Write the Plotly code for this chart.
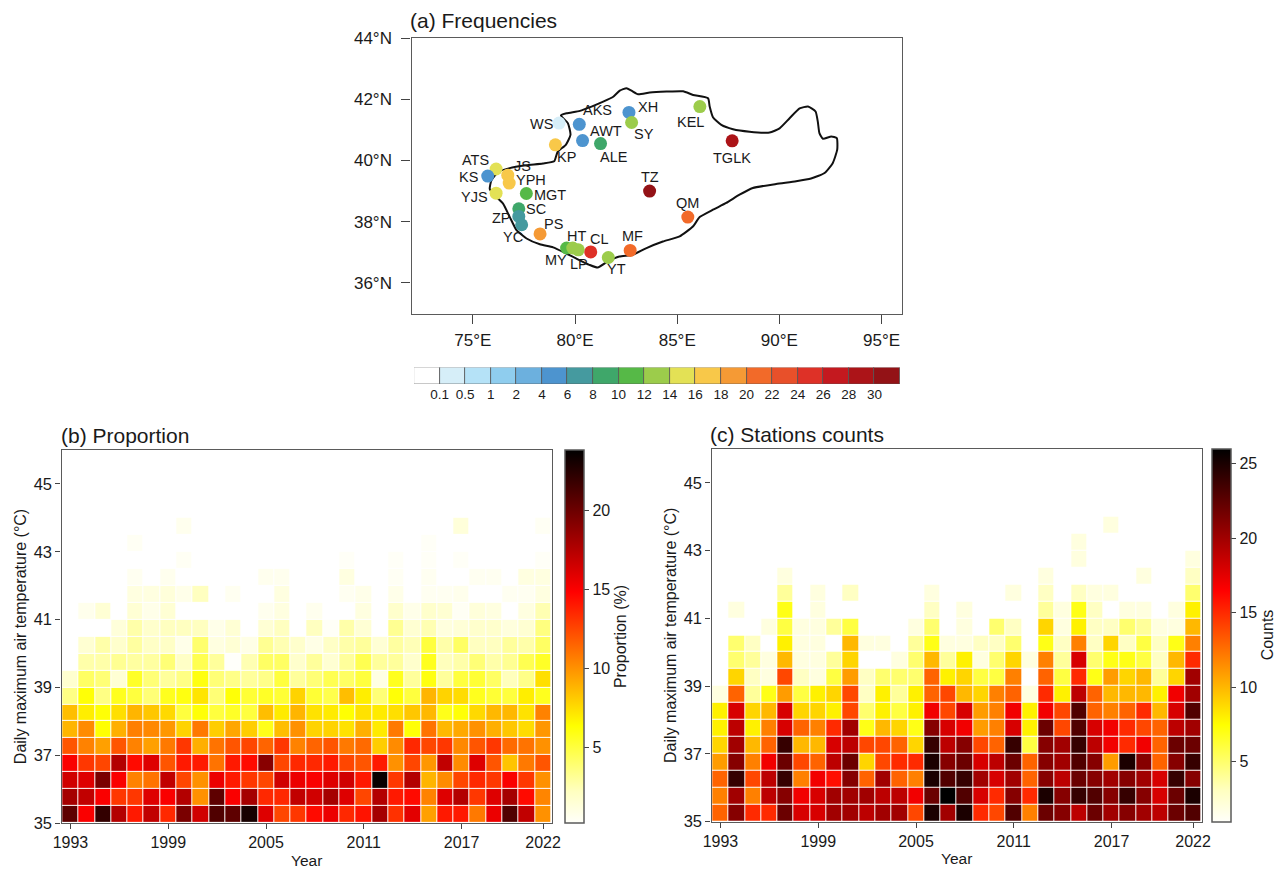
import numpy as np
import plotly.graph_objects as go

W, H = 1276, 869
FONT = "Liberation Sans"
INK = "#1a1a1a"
FRAME = "#5a5a5a"

# ---------- data ----------
years = list(range(1993, 2023))
year_ticks = [1993, 1999, 2005, 2011, 2017, 2022]
temp_ticks = [35, 37, 39, 41, 43, 45]
temp_rows = [35.25 + 0.5 * i for i in range(18)]

prop_35_0 = [20.5,15,22,17.5,14,17,13.5,19.5,16.5,21,20.5,23,16,12.5,13,14.5,15.5,13.5,14.2,18,13.2,15.8,9.5,14,14,10.8,15.5,21,17,10]
prop_35_5 = [18,17,15,13,13,16,15,17.5,10,20.5,15,18,13.5,13.5,17,16.5,18,16,12.5,17.5,14,14.5,10.5,16,17.5,13,16,18,14.5,10.4]
prop_36_0 = [16.5,16,19.5,15,10.5,11,17,12.5,10,15.5,14,13,12.5,16.5,15.5,15,16,16.5,14,23.5,13,17.5,8.8,10.2,12.5,13.5,13,15,13,10]
prop_36_5 = [15,13,12.5,17.5,14.5,16,12,14,14,11,14,14.5,19,12.5,13.5,13.5,14,12.5,12,14,10,12.5,9.8,17,10.2,16,12,8.3,10.8,12]
prop_37_0 = [12,10.5,9.5,12,10.5,9.5,10.8,13,9,11,12,12.5,11.5,13,10.5,11.5,12,10.8,11.3,8,10.2,13.5,12.5,13,10.3,12,13,11.3,11,10]
prop_37_5 = [8.8,10.2,6.3,9,10.6,10.3,9.8,7.8,10.8,8,9.3,8,5.8,8.5,10,7.8,7.8,7.3,9,7,10.8,6.2,11,8.7,9.2,10,9,8.2,7.5,9.8]
prop_38_0 = [8.5,6.9,6.2,7.4,8.8,8.2,7.6,5,6.2,5,5.5,5,8.5,7,8.8,7.3,7,6.3,7.3,7,7.4,8.2,8.7,5.8,6.2,7.6,8.7,8.7,7.3,10.5]
prop_38_5 = [3.5,6.2,3.5,5.7,5,3.8,5.7,6,7.2,3.8,6.2,5.2,5.5,5.2,7.8,5.2,4.7,8.5,6.9,3.8,6.2,5,8.8,7.8,7.5,5.7,5.2,5,6.9,5.7]
prop_39_0 = [1.7,4.2,3.8,1.5,5.5,3.8,3,3.5,6,3.8,3.4,3,3.4,5,3,3.8,4.6,4.2,5,1,5.7,3,6,3,5,5.2,4.2,2.3,3.4,7.4]
prop_39_5 = [0,2.7,2.7,3.2,2.9,2.9,3.8,2,4.6,3,0.2,2.5,4.2,4.2,1.8,3,1.6,3,4.6,3,3,1.8,5.7,2.3,2.7,3.8,2.7,3.2,4.6,5.5]
prop_40_0 = [0,1.6,2.7,1.8,2.9,2,2,0.8,4,1.1,1.5,0.9,3.2,2.5,1.8,0.9,2,2.7,3,1.5,2.9,2.4,5,2.7,4.2,2.2,2.2,3,2.7,4.2]
prop_40_5 = [0,0,0,1.3,2.7,1.8,2.2,2.2,2.2,0.8,1.5,0,1.5,2.2,0,2.2,0.3,2.7,1.5,0,3.2,1.6,2.5,1.2,1.4,1.8,1.8,1.2,1.6,3.6]
prop_41_0 = [0,0.7,1.5,0,1.5,0.8,1.5,0,0,0,0,0,0.6,1.1,0,0.6,0,0,1.1,0,1.8,0.8,1.8,1.6,0.4,1.3,1.1,0,1.1,2.5]
prop_41_5 = [0,0,0,0,1.1,1.1,1.3,0.8,2.2,0,0.5,0,0,1.1,0,0,0,0.5,0.8,0,0.8,0,0.5,0.5,0.7,0,0,0.5,0.5,1.1]
prop_42_0 = [0,0,0,0,0.5,0,0.6,0,0,0,0,0,0.6,0.6,0,0,0,1.1,0,0,0.4,0,0.5,0,0,0.5,0.5,0,1.1,1.1]
prop_42_5 = [0,0,0,0,0,0,0,0.4,0,0,0,0,0,0,0,0,0,0.3,0,0,0.3,0,0.3,0,0.3,0,0,0,0,0.3]
prop_43_0 = [0,0,0,0,0.4,0,0,0,0,0,0,0,0,0,0,0,0,0,0,0,0,0,0.3,0,0,0,0,0,0,0]
prop_43_5 = [0,0,0,0,0,0,0,0.6,0,0,0,0,0,0,0,0,0,0,0,0,0,0,0,0,1.3,0,0,0,0,0.4]

count_35_0 = [13,21,15,15,22,18,18,20,20,19,20,20,14,25,20,25,15,14,23,12,22,21,19,22,20,21,20,19,22,23]
count_35_5 = [12,20,12,19,21,17,18,20,20,20,19,19,17,22,26,23,18,15,21,15,25,21,24,23,21,24,21,18,22,25]
count_36_0 = [13,24,14,19,24,12,17,16,21,13,20,13,12,25,23,24,20,18,20,13,21,19,22,21,20,21,20,18,24,21]
count_36_5 = [11,21,12,17,22,14,13,19,22,9,14,15,15,25,21,22,18,19,22,13,21,20,23,21,11,25,21,13,21,24]
count_37_0 = [9,20,10,13,24,10,10,18,19,14,14,13,9,24,19,21,14,13,24,6,21,20,24,19,17,15,17,13,22,22]
count_37_5 = [8,19,8,12,18,13,12,15,20,7,10,9,7,21,18,17,11,12,18,8,22,14,23,18,17,15,14,13,19,20]
count_38_0 = [8,18,9,10,18,9,9,8,14,5,8,6,8,17,14,18,11,12,17,8,17,14,23,13,12,13,15,10,18,23]
count_38_5 = [2,13,4,7,11,6,8,9,14,3,8,4,8,13,14,10,9,12,13,2,15,8,19,13,10,10,10,8,17,20]
count_39_0 = [0,9,3,2,14,3,2,6,11,3,5,5,5,13,8,9,6,6,12,0,13,6,15,7,11,9,10,4,9,20]
count_39_5 = [0,5,4,2,10,2,2,4,9,0,0,2,5,10,4,8,2,5,9,2,12,4,18,5,7,7,6,3,10,15]
count_40_0 = [0,5,3,0,8,2,2,0,10,2,2,0,4,7,2,2,3,3,5,0,7,3,12,3,9,3,6,3,7,12]
count_40_5 = [0,0,0,2,6,2,2,4,6,0,0,0,2,5,0,2,0,5,3,0,9,2,8,3,3,5,4,2,2,10]
count_41_0 = [0,2,0,0,7,0,2,0,0,0,0,0,0,3,0,2,0,0,0,0,4,2,7,3,0,2,2,0,2,8]
count_41_5 = [0,0,0,0,4,0,2,0,3,0,0,0,0,2,0,0,0,0,2,0,3,0,3,2,2,0,0,0,0,5]
count_42_0 = [0,0,0,0,2,0,0,0,0,0,0,0,0,0,0,0,0,0,0,0,2,0,0,0,0,0,2,0,0,3]
count_42_5 = [0,0,0,0,0,0,0,0,0,0,0,0,0,0,0,0,0,0,0,0,0,0,2,0,0,0,0,0,0,2]
count_43_0 = [0,0,0,0,0,0,0,0,0,0,0,0,0,0,0,0,0,0,0,0,0,0,2,0,0,0,0,0,0,0]
count_43_5 = [0,0,0,0,0,0,0,0,0,0,0,0,0,0,0,0,0,0,0,0,0,0,0,0,2,0,0,0,0,0]

stations = ["WS","AKS","XH","SY","KEL","AWT","ALE","KP","TGLK","ATS","JS","YPH","KS","YJS","MGT","TZ","QM","SC","ZP","YC","PS","MY","HT","LP","CL","MF","YT"]
station_lon = [79.22,80.21,82.64,82.77,86.11,80.37,81.25,79.04,87.69,76.14,76.71,76.78,75.73,76.14,77.62,83.65,85.52,77.25,77.25,77.39,78.29,79.59,79.89,80.16,80.77,82.70,81.63]
station_lat = [41.22,41.18,41.57,41.24,41.76,40.65,40.55,40.51,40.64,39.72,39.52,39.26,39.49,38.93,38.92,39.00,38.15,38.42,38.17,37.90,37.60,37.14,37.14,37.08,37.01,37.06,36.83]
station_freq = [0.3,5,5,13,13,5,9,17,29,15,17,17,5,15,11,31,21,9,7,7,19,11,13,13,25,21,13]

border_lon = [79.31,79.59,80.24,80.81,81.38,81.87,82.19,82.52,82.76,83.09,83.66,84.48,85.29,85.78,86.51,86.59,86.75,87.16,87.73,88.54,89.52,90.01,90.50,90.99,91.40,91.77,91.88,91.96,92.13,92.54,92.81,92.83,92.61,92.21,91.55,90.82,89.84,88.70,88.05,87.40,86.75,86.10,85.77,85.12,84.30,83.47,82.82,82.17,81.60,81.11,80.70,80.05,79.57,78.93,78.28,77.63,77.14,76.81,76.48,76.07,75.83,75.91,76.23,76.80,77.61,78.43,78.98,79.15,79.56,79.78,79.65,79.31]
border_lat = [41.47,41.54,41.62,41.76,41.92,42.08,42.28,42.36,42.28,42.16,42.22,42.25,42.26,42.14,42.03,41.76,41.41,41.16,41.02,40.94,40.91,41.05,41.38,41.70,41.76,41.60,41.27,40.89,40.71,40.78,40.73,40.35,39.91,39.59,39.41,39.32,39.23,39.10,38.88,38.61,38.39,38.15,37.84,37.52,37.35,37.13,36.92,36.86,36.70,36.50,36.59,36.80,36.96,37.16,37.26,37.45,37.72,38.15,38.59,38.86,39.07,39.35,39.62,39.75,39.84,39.90,39.97,40.28,40.52,40.84,41.22,41.47]

level_labels = ["0.1","0.5","1","2","4","6","8","10","12","14","16","18","20","22","24","26","28","30"]
level_edges = [0.1,0.5,1,2,4,6,8,10,12,14,16,18,20,22,24,26,28,30]
level_colors = ["#ffffff","#d6eef8","#b5e2f7","#8fcdee","#6cb0de","#4d94cf","#459a9f","#3fa76a","#56b947","#9ccc4b","#e3e155","#f8c849","#f59a35","#f26a29","#e8502a","#de3127","#c4191f","#ac1418","#931216"]

# ---------- layout helpers ----------
label_offset = {"WS":(-18,1),"AKS":(18,-14),"XH":(19,-5),"SY":(12,12),"KEL":(-9,15),"AWT":(23,-10),"ALE":(13,13),"KP":(11,12),"TGLK":(0,17),"ATS":(-21,-9),"JS":(15,-9),"YPH":(22,-3),"KS":(-19,1),"YJS":(-22,4),"MGT":(24,1),"TZ":(0,-14),"QM":(0,-14),"SC":(17,0),"ZP":(-17,2),"YC":(-9,12),"PS":(13,-10),"HT":(4,-12),"CL":(9,-13),"MF":(2,-14),"MY":(-11,12),"LP":(1,14),"YT":(8,12)}

def dx(a, b):
    return [a / W, b / W]

def dy(top, bottom):
    return [1 - bottom / H, 1 - top / H]

heat_scale = [[0, "#fffffa"], [0.085, "#ffffc0"], [0.26, "#ffff00"], [0.62, "#ff0000"], [1, "#000000"]]

def matrix(rows):
    m = np.array(rows, dtype=float)
    m[m == 0] = np.nan
    return m

prop = matrix([prop_35_0,prop_35_5,prop_36_0,prop_36_5,prop_37_0,prop_37_5,prop_38_0,prop_38_5,prop_39_0,prop_39_5,prop_40_0,prop_40_5,prop_41_0,prop_41_5,prop_42_0,prop_42_5,prop_43_0,prop_43_5])
count = matrix([count_35_0,count_35_5,count_36_0,count_36_5,count_37_0,count_37_5,count_38_0,count_38_5,count_39_0,count_39_5,count_40_0,count_40_5,count_41_0,count_41_5,count_42_0,count_42_5,count_43_0,count_43_5])

fig = go.Figure()

# panel a
fig.add_trace(go.Scatter(x=border_lon, y=border_lat, mode="lines", line=dict(color="#111111", width=2, shape="spline", smoothing=0.5), xaxis="x", yaxis="y", hoverinfo="skip", showlegend=False))
station_colors = [level_colors[i] for i in np.digitize(station_freq, level_edges)]
fig.add_trace(go.Scatter(x=station_lon, y=station_lat, mode="markers", marker=dict(size=13, color=station_colors, line=dict(width=0)), text=stations, xaxis="x", yaxis="y", showlegend=False))

# discrete legend
fig.add_trace(go.Bar(x=list(range(len(level_colors))), y=[1] * len(level_colors), width=1, marker=dict(color=level_colors, line=dict(color="#555555", width=0.8)), xaxis="x2", yaxis="y2", hoverinfo="skip", showlegend=False))

# panels b, c
def cbar(x_px, top, bottom, title, vals):
    return dict(x=x_px / W, xanchor="left", xref="paper", y=1 - bottom / H, yanchor="bottom", yref="paper",
                len=(bottom - top) / H, lenmode="fraction", thickness=19, thicknessmode="pixels",
                xpad=0, ypad=0, outlinecolor=FRAME, outlinewidth=1.5,
                tickvals=vals, ticks="outside", ticklen=5, tickcolor="#444444",
                tickfont=dict(size=16, color=INK, family=FONT),
                title=dict(text=title, side="right", font=dict(size=16, color=INK, family=FONT)))

fig.add_trace(go.Heatmap(x=years, y=temp_rows, z=prop, zmin=0.2, zmax=23.8, colorscale=heat_scale, xgap=1, ygap=1, xaxis="x3", yaxis="y3", hoverongaps=False,
                         colorbar=cbar(565, 450, 823, "Proportion (%)", [5, 10, 15, 20])))
fig.add_trace(go.Heatmap(x=years, y=temp_rows, z=count, zmin=1, zmax=26, colorscale=heat_scale, xgap=1, ygap=1, xaxis="x4", yaxis="y4", hoverongaps=False,
                         colorbar=cbar(1211.5, 449, 821.5, "Counts", [5, 10, 15, 20, 25])))

tick = dict(ticks="outside", tickcolor="#444444", tickwidth=1, color=INK, showgrid=False, zeroline=False, showline=True, linecolor=FRAME, linewidth=1.3, mirror=True)

def heat_axes(xdom, ydom, yname):
    xa = dict(tick, domain=xdom, anchor=yname, range=[1992.45, 2022.55], tickvals=year_ticks, ticklen=5,
              tickfont=dict(size=16, family=FONT), title=dict(text="Year", font=dict(size=15.5, family=FONT, color=INK), standoff=4))
    return xa

annos = []
for name, lon, lat in zip(stations, station_lon, station_lat):
    ox, oy = label_offset[name]
    annos.append(dict(x=lon, y=lat, xref="x", yref="y", text=name, showarrow=False, xshift=ox, yshift=-oy,
                      font=dict(size=14.5, family=FONT, color=INK)))
for txt, xp, yp in [("(a) Frequencies", 408, 21), ("(b) Proportion", 59, 435.5), ("(c) Stations counts", 708, 434)]:
    annos.append(dict(x=xp / W, y=1 - yp / H, xref="paper", yref="paper", xanchor="left", yanchor="middle", text=txt, showarrow=False,
                      font=dict(size=21, family=FONT, color=INK)))

y_title = dict(text="Daily maximum air temperature (°C)", font=dict(size=16, family=FONT, color=INK), standoff=3)

fig.update_layout(
    width=W, height=H, autosize=False, margin=dict(l=0, r=0, t=0, b=0, autoexpand=False), paper_bgcolor="white", plot_bgcolor="white",
    showlegend=False, bargap=0, font=dict(family=FONT, color=INK), annotations=annos,
    xaxis=dict(tick, domain=dx(411.5, 902), anchor="y", range=[72, 96], tickvals=[75, 80, 85, 90, 95], ticktext=["75°E", "80°E", "85°E", "90°E", "95°E"], ticklen=9, tickfont=dict(size=17, family=FONT), ticklabelstandoff=2),
    yaxis=dict(tick, domain=dy(38, 313.5), anchor="x", range=[35, 44], tickvals=[36, 38, 40, 42, 44], ticktext=["36°N", "38°N", "40°N", "42°N", "44°N"], ticklen=9, tickfont=dict(size=17, family=FONT), ticklabelstandoff=6),
    xaxis2=dict(domain=dx(414, 900), anchor="y2", range=[-0.5, 18.5], tickvals=[i + 0.5 for i in range(18)], ticktext=level_labels, ticks="", showgrid=False, zeroline=False, showline=False, tickfont=dict(size=13.5, family=FONT, color=INK)),
    yaxis2=dict(domain=dy(367.5, 384), anchor="x2", range=[0, 1], visible=False),
    xaxis3=heat_axes(dx(61.5, 552), dy(450, 823), "y3"),
    yaxis3=dict(tick, domain=dy(450, 823), anchor="x3", range=[35, 46], tickvals=temp_ticks, ticklen=5, tickfont=dict(size=16.5, family=FONT), title=y_title),
    xaxis4=heat_axes(dx(711.5, 1202), dy(449, 821.5), "y4"),
    yaxis4=dict(tick, domain=dy(449, 821.5), anchor="x4", range=[35, 46], tickvals=temp_ticks, ticklen=5, tickfont=dict(size=16.5, family=FONT), title=y_title),
)

fig.write_html("out.html", config=dict(displayModeBar=False), post_script="document.body.style.margin='0';")
